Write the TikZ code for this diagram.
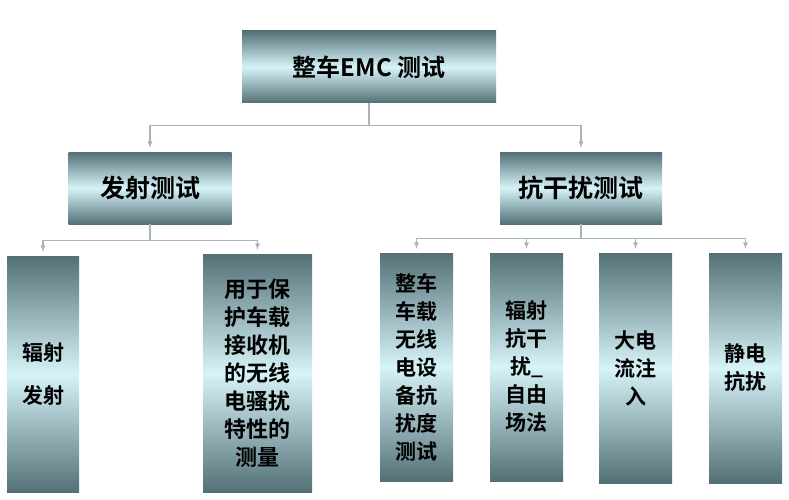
\documentclass[tikz,border=0pt]{standalone}
\usepackage{fontspec}
\setmainfont{Liberation Sans}
\newfontfamily\cjk{Noto Sans CJK SC}[BoldFont={* Bold}]
\usetikzlibrary{positioning}
\definecolor{boxdark}{RGB}{82,112,118}
\definecolor{boxlight}{RGB}{214,244,248}
\definecolor{linkgray}{RGB}{170,180,184}
\tikzset{
  testbox/.style={rectangle, inner sep=0pt, top color=boxdark, bottom color=boxdark, middle color=boxlight, align=center, font=\cjk\bfseries},
  link/.style={->, >=latex, draw=linkgray, line width=1.2pt, shorten >=4pt}
}

\begin{document}
\begin{tikzpicture}[x=1pt,y=-1pt]
\useasboundingbox (0,0) rectangle (789,500);
\node[testbox, minimum width=254pt, minimum height=72pt, font=\cjk\bfseries\fontsize{24}{28}\selectfont] (root) at (369,67) {整车\textbf{EMC} 测试};
\node[testbox, minimum width=163pt, minimum height=72pt, font=\cjk\bfseries\fontsize{25}{28}\selectfont] (emit) at (150,188) {发射测试};
\node[testbox, minimum width=162pt, minimum height=72pt, font=\cjk\bfseries\fontsize{25}{28}\selectfont] (immun) at (581,188) {抗干扰测试};
% emission tests
\node[testbox, minimum width=72pt, minimum height=236pt, font=\cjk\bfseries\fontsize{21}{28}\selectfont] (radEmit) at (43,374) {辐射\\[15pt]发射};
\node[testbox, minimum width=109pt, minimum height=238pt, font=\cjk\bfseries\fontsize{22}{28}\selectfont] (rcvProt) at (257.5,373) {用于保\\护车载\\接收机\\的无线\\电骚扰\\特性的\\测量};
% immunity tests
\node[testbox, minimum width=73pt, minimum height=228pt, font=\cjk\bfseries\fontsize{21}{28}\selectfont] (vehImm) at (416.5,367) {整车\\车载\\无线\\电设\\备抗\\扰度\\测试};
\node[testbox, minimum width=73pt, minimum height=228pt, font=\cjk\bfseries\fontsize{21}{28}\selectfont] (radImm) at (526.5,367) {辐射\\抗干\\扰\_\\自由\\场法};
\node[testbox, minimum width=73pt, minimum height=230pt, font=\cjk\bfseries\fontsize{21}{28}\selectfont] (bci) at (635.5,368) {大电\\流注\\入};
\node[testbox, minimum width=73pt, minimum height=230pt, font=\cjk\bfseries\fontsize{21}{28}\selectfont] (esd) at (745.5,368) {静电\\抗扰};
\draw[link] (root.south) -- ++(0,22) -| (emit.north);
\draw[link] (root.south) -- ++(0,22) -| (immun.north);
\draw[link] (emit.south) -- ++(0,16) -| (radEmit.north);
\draw[link] (emit.south) -- ++(0,16) -| (rcvProt.north);
\foreach \n in {vehImm,radImm,bci,esd}
  \draw[link] (immun.south) -- ++(0,14) -| (\n.north);
\end{tikzpicture}
\end{document}
